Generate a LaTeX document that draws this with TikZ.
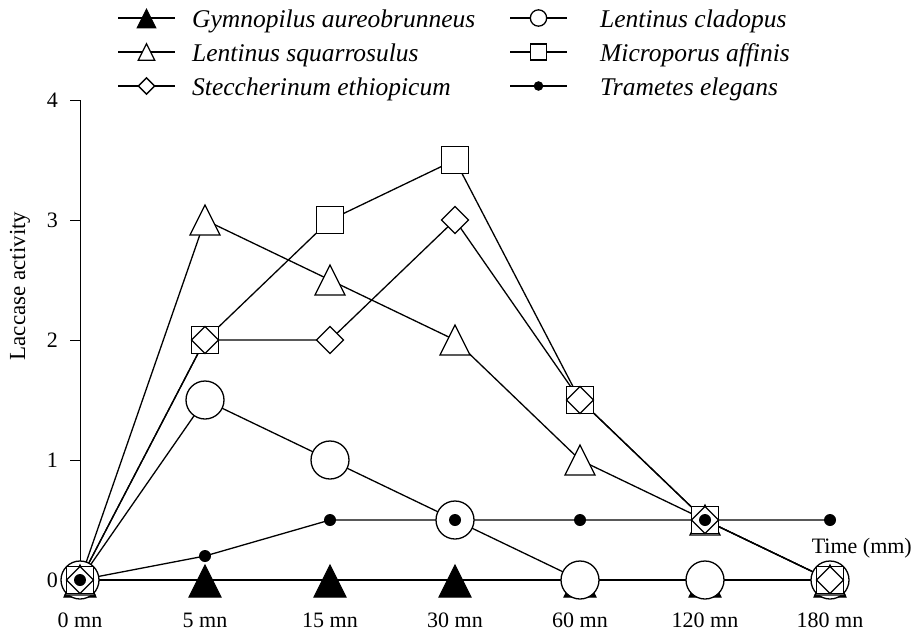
\documentclass[tikz,border=0pt]{standalone}
\usepackage{fontspec}
\setmainfont{Liberation Serif}
\tikzset{
  ser/.style={line width=1.3pt, line join=miter},
  mk/.style={line width=1.3pt, draw=black, fill=white},
  ftri/.pic={\path[draw=black, fill=black, line width=1pt] (0,-15) -- (16,17) -- (-16,17) -- cycle;},
  otri/.pic={\path[mk] (0,-15) -- (15,15) -- (-15,15) -- cycle;},
  circ/.pic={\path[mk] (0,0) circle[radius=19];},
  sqr/.pic={\path[mk] (-13.5,-13.5) rectangle (13.5,13.5);},
  dia/.pic={\path[mk] (0,-13.5) -- (13.5,0) -- (0,13.5) -- (-13.5,0) -- cycle;},
  fdot/.pic={\path[fill=black] (0,0) circle[radius=6];},
  ticklab/.style={font=\fontsize{22}{24}\selectfont, inner sep=0pt},
  leglab/.style={font=\fontsize{25.5}{28}\selectfont\itshape, inner sep=0pt, anchor=base west},
}
\begin{document}
\begin{tikzpicture}[x=1pt, y=-1pt]
\useasboundingbox (0,0) rectangle (916,637);
\fill[white] (0,0) rectangle (916,637);

% data coordinates
\foreach \s/\vals in {G/{0,0,0,0,0,0,0}, C/{0,1.5,1,0.5,0,0,0}, S/{0,3,2.5,2,1,0.5,0}, M/{0,2,3,3.5,1.5,0.5,0}, E/{0,2,2,3,1.5,0.5,0}, T/{0,0.2,0.5,0.5,0.5,0.5,0.5}} {
  \foreach \v [count=\i from 0] in \vals {
    \coordinate (\s\i) at ({80+125*\i},{580-120*\v});
  }
}

% axis
\coordinate (ytop) at (80,100);
\coordinate (ybot) at (80,580);
\draw[line width=1pt] (ytop) -- (ybot);
\foreach \v in {0,...,4} {
  \coordinate (tk\v) at (80,{580-120*\v});
  \coordinate (tl\v) at (70,{580-120*\v});
  \draw[line width=1pt] (tl\v) -- (tk\v);
  \node[ticklab, anchor=east] (yl\v) at (58,{580-120*\v}) {\v};
}
\foreach \t [count=\i from 0] in {0 mn,5 mn,15 mn,30 mn,60 mn,120 mn,180 mn} {
  \node[ticklab, anchor=base] (xl\i) at ({80+125*\i},627) {\t};
}
\node[ticklab, font=\fontsize{23}{26}\selectfont, rotate=90] (ylab) at (20,286) {Laccase activity};
\node[ticklab, anchor=base east] (tlab) at (912,553) {Time (mm)};

% series lines
\foreach \s in {G,C,S,M,E,T} {
  \draw[ser] (\s0) -- (\s1) -- (\s2) -- (\s3) -- (\s4) -- (\s5) -- (\s6);
}
% markers
\foreach \i in {0,...,6} {\pic at (G\i) {ftri};}
\foreach \i in {0,...,6} {\pic at (C\i) {circ};}
\foreach \i in {0,...,6} {\pic at (S\i) {otri};}
\foreach \i in {0,...,6} {\pic at (M\i) {sqr};}
\foreach \i in {0,...,6} {\pic at (E\i) {dia};}
\foreach \i in {0,...,6} {\pic at (T\i) {fdot};}

% legend
\foreach \n/\x/\y/\p/\sc/\tx/\lab in {
  1/146.5/18/ftri/0.58/192/Gymnopilus aureobrunneus,
  2/146.5/52/otri/0.55/192/Lentinus squarrosulus,
  3/146.5/86/dia/0.6/192/Steccherinum ethiopicum,
  4/538.5/18/circ/0.43/600/Lentinus cladopus,
  5/538.5/52/sqr/0.6/600/Microporus affinis,
  6/538.5/86/fdot/0.8/600/Trametes elegans} {
  \coordinate (la\n) at ({\x-28.5},\y);
  \coordinate (lb\n) at ({\x+28.5},\y);
  \coordinate (lm\n) at (\x,\y);
  \draw[ser] (la\n) -- (lb\n);
  \pic[scale=\sc] at (lm\n) {\p};
  \node[leglab] (lt\n) at (\tx,{\y+9.5}) {\lab};
}
\end{tikzpicture}
\end{document}
